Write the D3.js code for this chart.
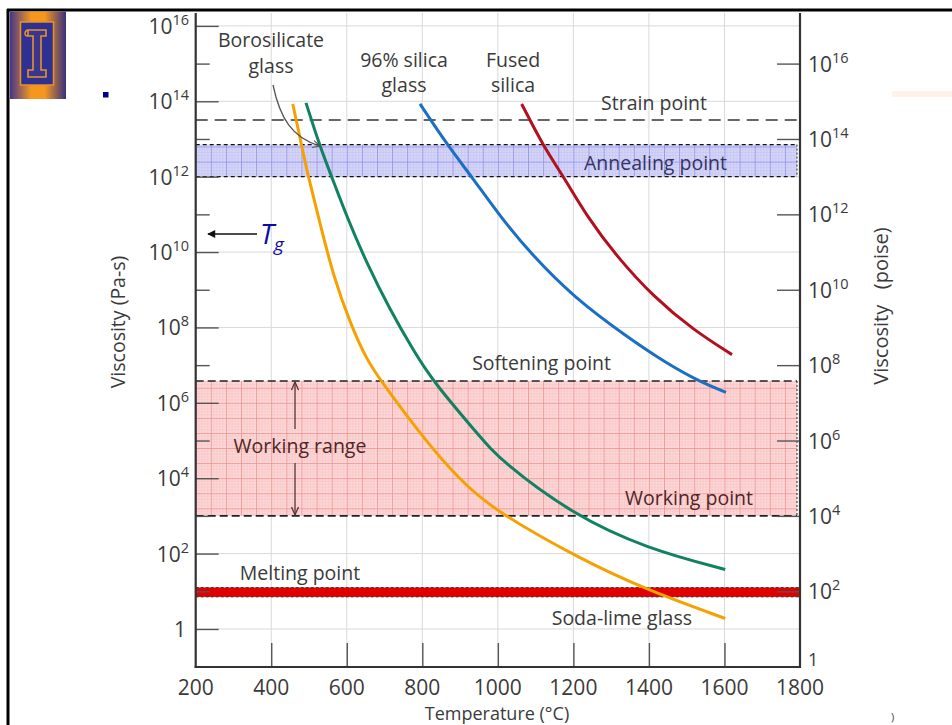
<!DOCTYPE html>
<html><head><meta charset="utf-8">
<script src="https://cdn.jsdelivr.net/npm/d3@7"></script>
<style>
body{margin:0;background:#fff;overflow:hidden}
svg{display:block}
text{font-family:"Open Sans",sans-serif}
</style>
</head><body>
<svg id="chart" width="952" height="725"></svg>
<script>
// ---------- data (viscosity in Pa·s, temperature in °C) ----------
const sodaLimeTemp = [457, 481, 498, 529, 565, 609, 653, 693, 741, 829, 918, 1006, 1209, 1386, 1602];
const sodaLimeVisc = [8.5e13, 6.3e12, 1.0e12, 5.8e10, 2.2e9, 1.3e8, 1.35e7, 3.6e6, 7.8e5, 5.5e4, 5.9e3, 1.15e3, 81, 11.7, 1.9];
const borosilicateTemp = [492, 529, 560, 600, 653, 715, 776, 829, 953, 1006, 1200, 1395, 1602];
const borosilicateVisc = [9.1e13, 6.3e12, 1.0e12, 8.7e10, 5.0e9, 2.9e8, 2.5e7, 3.6e6, 1.26e5, 3.0e4, 1.05e3, 135, 38];
const silica96Temp = [794, 869, 931, 1006, 1094, 1200, 1342, 1448, 1536, 1604];
const silica96Visc = [8.5e13, 6.3e12, 1.0e12, 8.7e10, 7.6e9, 6.5e8, 5.6e7, 1.1e7, 3.6e6, 1.9e6];
const fusedSilicaTemp = [1063, 1121, 1174, 1236, 1315, 1412, 1518, 1620];
const fusedSilicaVisc = [8.5e13, 6.3e12, 1.0e12, 8.7e10, 7.6e9, 6.5e8, 8.5e7, 1.9e7];

const strainPoint = 3.2e13;
const annealingRange = [1.0e12, 7.1e12];
const softeningPoint = 3.8e6;
const workingPoint = 1.0e3;
const meltingRange = [7.1, 12.6];

const tempTicks = [200, 400, 600, 800, 1000, 1200, 1400, 1600, 1800];
const paExponents = [0, 2, 4, 6, 8, 10, 12, 14, 16];
const paMinorExponents = [1, 3, 5, 7, 9, 11, 13, 15];
const poiseExponents = [0, 2, 4, 6, 8, 10, 12, 14, 16];

// ---------- layout ----------
const svg = d3.select("#chart");
const x = d3.scaleLinear().domain([200, 1800]).range([195.7, 800]);
const y = d3.scaleLog().domain([0.098, 2.2e16]).range([667, 13]);
const yTop = 13, yBot = 667, xL = x(200), xR = x(1800);
const textCol = "#3a3a3a";
const LS = 19.5; // label font size

const defs = svg.append("defs");
function gridPattern(id, bg, line, fine){
  const w = x(240)-x(200), h = y(1e6)-y(1e6*Math.pow(10,0.4));
  const p = defs.append("pattern").attr("id", id).attr("patternUnits","userSpaceOnUse")
    .attr("x", xL).attr("y", y(1e6)).attr("width", w).attr("height", h);
  p.append("rect").attr("width", w).attr("height", h).attr("fill", bg);
  for (let i=1;i<5;i++){
    p.append("line").attr("x1", w*i/5).attr("x2", w*i/5).attr("y1",0).attr("y2",h).attr("stroke",fine).attr("stroke-width",0.5);
    p.append("line").attr("y1", h*i/5).attr("y2", h*i/5).attr("x1",0).attr("x2",w).attr("stroke",fine).attr("stroke-width",0.5);
  }
  p.append("line").attr("x1",0.4).attr("x2",0.4).attr("y1",0).attr("y2",h).attr("stroke",line).attr("stroke-width",0.8);
  p.append("line").attr("y1",0.4).attr("y2",0.4).attr("x1",0).attr("x2",w).attr("stroke",line).attr("stroke-width",0.8);
}
gridPattern("pinkGrid", "#fcd8d8", "#f08c8c", "#f7bcbc");
gridPattern("blueGrid", "#d6d6f8", "#8a8ae8", "#bcbcf2");

const logoGrad = defs.append("linearGradient").attr("id","logoGrad").attr("x1","0").attr("x2","1");
logoGrad.append("stop").attr("offset","0%").attr("stop-color","#46358a");
logoGrad.append("stop").attr("offset","38%").attr("stop-color","#f5971f");
logoGrad.append("stop").attr("offset","62%").attr("stop-color","#f5971f");
logoGrad.append("stop").attr("offset","100%").attr("stop-color","#38307e");

defs.append("marker").attr("id","openArrow").attr("viewBox","0 0 10 10").attr("refX",9).attr("refY",5)
  .attr("markerWidth",9).attr("markerHeight",9).attr("orient","auto-start-reverse").attr("markerUnits","userSpaceOnUse")
  .append("path").attr("d","M1,1 L9,5 L1,9").attr("fill","none").attr("stroke","#555").attr("stroke-width",1.2);
defs.append("marker").attr("id","solidArrow").attr("viewBox","0 0 10 10").attr("refX",9).attr("refY",5)
  .attr("markerWidth",10).attr("markerHeight",8).attr("orient","auto").attr("markerUnits","userSpaceOnUse")
  .append("path").attr("d","M0,0 L10,5 L0,10 Z").attr("fill","#111");
defs.append("marker").attr("id","rangeArrow").attr("viewBox","0 0 10 10").attr("refX",9).attr("refY",5)
  .attr("markerWidth",10).attr("markerHeight",10).attr("orient","auto").attr("markerUnits","userSpaceOnUse")
  .append("path").attr("d","M1,1.5 L9,5 L1,8.5").attr("fill","none").attr("stroke","#5a3434").attr("stroke-width",1.3);

// ---------- slide frame ----------
svg.append("line").attr("x1",7).attr("x2",952).attr("y1",10).attr("y2",10).attr("stroke","#000").attr("stroke-width",3);
svg.append("line").attr("x1",8).attr("x2",8).attr("y1",9).attr("y2",725).attr("stroke","#000").attr("stroke-width",3);
const logo = svg.append("g");
logo.append("rect").attr("x",10).attr("y",11.5).attr("width",56).attr("height",87.5).attr("fill","url(#logoGrad)");
logo.append("rect").attr("x",20.5).attr("y",22).attr("width",33).attr("height",63).attr("fill","#2f3192").attr("stroke","#e69327").attr("stroke-width",1.5);
logo.append("path")
  .attr("d","M28,30 L46,30 L46,36 L41,36 L41,70 L46,70 L46,77 L28,77 L28,70 L33,70 L33,36 L28,36 Z")
  .attr("fill","#3a3590").attr("stroke","#e69327").attr("stroke-width",1.6);
logo.append("path").attr("d","M28,30 C24,31 24,36 28,36").attr("fill","none").attr("stroke","#e69327").attr("stroke-width",1.4);
svg.append("rect").attr("x",103).attr("y",92).attr("width",5.5).attr("height",5.5).attr("fill","#000090");
svg.append("rect").attr("x",892).attr("y",91).attr("width",60).attr("height",6).attr("fill","#fdf1ea");

// ---------- grid ----------
const grid = svg.append("g").attr("stroke","#d9d9d9").attr("stroke-width",1);
grid.selectAll("line.v").data(tempTicks.slice(1,-1)).join("line")
  .attr("x1",d=>x(d)).attr("x2",d=>x(d)).attr("y1",yTop).attr("y2",yBot);
grid.selectAll("line.h").data(paExponents).join("line")
  .attr("x1",xL).attr("x2",xR).attr("y1",d=>y(Math.pow(10,d))).attr("y2",d=>y(Math.pow(10,d)));

// ---------- bands ----------
svg.append("rect").attr("x",xL).attr("width",xR-xL-3).attr("y",y(softeningPoint)).attr("height",y(workingPoint)-y(softeningPoint))
  .attr("fill","url(#pinkGrid)");
svg.append("line").attr("x1",xR-3).attr("x2",xR-3).attr("y1",y(softeningPoint)).attr("y2",y(workingPoint))
  .attr("stroke","#222").attr("stroke-width",1).attr("stroke-dasharray","2,2");
[softeningPoint, workingPoint].forEach(v=>{
  svg.append("line").attr("x1",xL).attr("x2",xR-3).attr("y1",y(v)).attr("y2",y(v))
    .attr("stroke","#222").attr("stroke-width",1.6).attr("stroke-dasharray","8,4");
});
svg.append("rect").attr("x",xL).attr("width",xR-xL-3).attr("y",y(annealingRange[1])).attr("height",y(annealingRange[0])-y(annealingRange[1]))
  .attr("fill","url(#blueGrid)");
svg.append("line").attr("x1",xR-3).attr("x2",xR-3).attr("y1",y(annealingRange[1])).attr("y2",y(annealingRange[0]))
  .attr("stroke","#222").attr("stroke-width",1).attr("stroke-dasharray","2,2");
annealingRange.forEach(v=>{
  svg.append("line").attr("x1",xL).attr("x2",xR-3).attr("y1",y(v)).attr("y2",y(v))
    .attr("stroke","#111").attr("stroke-width",1.2).attr("stroke-dasharray","4,3");
});
svg.append("line").attr("x1",xL).attr("x2",xR).attr("y1",y(strainPoint)).attr("y2",y(strainPoint))
  .attr("stroke","#666").attr("stroke-width",2).attr("stroke-dasharray","12,7");
svg.append("rect").attr("x",xL).attr("width",xR-xL).attr("y",y(meltingRange[1])).attr("height",y(meltingRange[0])-y(meltingRange[1]))
  .attr("fill","#e00000").attr("stroke","#222").attr("stroke-width",0.8).attr("stroke-dasharray","3,2");

// ---------- curves ----------
const plot = svg.append("g");
const line = d3.line().x(d=>x(d[0])).y(d=>y(d[1])).curve(d3.curveBasis);
const series = [
  {t: sodaLimeTemp, v: sodaLimeVisc, c: "#f5a100"},
  {t: borosilicateTemp, v: borosilicateVisc, c: "#118261"},
  {t: silica96Temp, v: silica96Visc, c: "#1a6fc4"},
  {t: fusedSilicaTemp, v: fusedSilicaVisc, c: "#b3101f"}
];
series.forEach(s=>{
  plot.append("path").datum(d3.zip(s.t, s.v)).attr("d", line)
    .attr("fill","none").attr("stroke", s.c).attr("stroke-width",3).attr("stroke-linecap","butt");
});

// ---------- axes ----------
const axisCol = "#333";
const gL = svg.append("g").attr("transform",`translate(${xL},0)`)
  .call(d3.axisRight(y).tickValues(paExponents.map(e=>Math.pow(10,e))).tickSize(23).tickFormat(""));
const gLm = svg.append("g").attr("transform",`translate(${xL},0)`)
  .call(d3.axisRight(y).tickValues(paMinorExponents.map(e=>Math.pow(10,e))).tickSize(14).tickFormat(""));
const gR = svg.append("g").attr("transform",`translate(${xR},0)`)
  .call(d3.axisLeft(y).tickValues(poiseExponents.slice(1).map(e=>Math.pow(10,e)/10)).tickSize(23).tickFormat(""));
const gB = svg.append("g").attr("transform",`translate(0,${yBot})`)
  .call(d3.axisTop(x).tickValues(tempTicks.slice(1,-1)).tickSize(24).tickFormat(""));
[gL,gLm,gR,gB].forEach(g=>{
  g.select(".domain").remove();
  g.selectAll(".tick line").attr("stroke","#555").attr("stroke-width",1.4);
});
svg.append("line").attr("x1",xL).attr("x2",xL).attr("y1",yTop).attr("y2",yBot+1).attr("stroke",axisCol).attr("stroke-width",2.2);
svg.append("line").attr("x1",xR).attr("x2",xR).attr("y1",yTop).attr("y2",yBot+1).attr("stroke",axisCol).attr("stroke-width",2.2);
svg.append("line").attr("x1",xL-1).attr("x2",xR+1).attr("y1",yBot).attr("y2",yBot).attr("stroke",axisCol).attr("stroke-width",2.2);

function powLabel(sel, e){
  if (e === 0) { sel.text("1"); return; }
  sel.append("tspan").text("10");
  sel.append("tspan").attr("font-size",14.5).attr("dy",-9).text(e);
}
paExponents.forEach(e=>{
  const t = svg.append("text").attr("x", e===0 ? 186 : 189).attr("y", y(Math.pow(10,e))+8)
    .attr("text-anchor","end").attr("font-size",21).attr("fill",textCol);
  powLabel(t, e);
});
poiseExponents.forEach(e=>{
  const yy = e===0 ? yBot : y(Math.pow(10,e)/10);
  const t = svg.append("text").attr("x", 808).attr("y", e===0 ? yBot-1 : yy+8)
    .attr("text-anchor","start").attr("font-size", e===0 ? 18 : 21).attr("fill",textCol);
  powLabel(t, e);
});
tempTicks.forEach(d=>{
  svg.append("text").attr("x", x(d)).attr("y", yBot+28).attr("text-anchor","middle")
    .attr("font-size",21).attr("fill",textCol).text(d);
});

svg.append("text").attr("transform","translate(125,322) rotate(-90)").attr("text-anchor","middle")
  .attr("font-size",LS).attr("fill",textCol).text("Viscosity (Pa-s)");
svg.append("text").attr("transform","translate(888,306) rotate(-90)").attr("text-anchor","middle")
  .attr("font-size",20).attr("fill",textCol).attr("xml:space","preserve").text("Viscosity   (poise)");
svg.append("text").attr("x",497).attr("y",720).attr("text-anchor","middle")
  .attr("font-size",18).attr("fill",textCol).text("Temperature (°C)");
svg.append("text").attr("x",891).attr("y",721).attr("font-size",11).attr("fill","#444").text(")");

// ---------- annotations ----------
function label(txt, xx, yy, anchor, col){
  svg.append("text").attr("x",xx).attr("y",yy).attr("text-anchor",anchor||"middle")
    .attr("font-size",LS).attr("fill",col||textCol).text(txt);
}
label("Borosilicate", 271, 47);
label("glass", 271, 73);
label("96% silica", 404, 67);
label("glass", 404, 92);
label("Fused", 513, 67);
label("silica", 513, 92);
label("Strain point", 707, 110, "end");
label("Annealing point", 727, 170, "end", "#34345e");
label("Softening point", 611, 370, "end");
label("Working range", 300, 453, "middle", "#4e2626");
label("Working point", 753, 505, "end", "#4e2626");
label("Melting point", 300, 580, "middle");
label("Soda-lime glass", 692, 625, "end");

svg.append("path").attr("d","M273,85 C280,118 292,138 320,146").attr("fill","none")
  .attr("stroke","#555").attr("stroke-width",1.3).attr("marker-end","url(#openArrow)");
svg.append("line").attr("x1",295).attr("x2",295).attr("y1",429).attr("y2",y(softeningPoint)+1)
  .attr("stroke","#5a3434").attr("stroke-width",1.3).attr("marker-end","url(#rangeArrow)");
svg.append("line").attr("x1",295).attr("x2",295).attr("y1",463).attr("y2",y(workingPoint)-1)
  .attr("stroke","#5a3434").attr("stroke-width",1.3).attr("marker-end","url(#rangeArrow)");
svg.append("line").attr("x1",257).attr("x2",208).attr("y1",234).attr("y2",234)
  .attr("stroke","#111").attr("stroke-width",1.5).attr("marker-end","url(#solidArrow)");
const tg = svg.append("text").attr("x",260).attr("y",244).attr("fill","#0a0aa8").attr("font-style","italic")
  .attr("font-family","Liberation Sans, Arial, sans-serif").attr("font-size",28);
tg.append("tspan").text("T");
tg.append("tspan").attr("font-size",19).attr("dy",7).text("g");
</script>
</body></html>
